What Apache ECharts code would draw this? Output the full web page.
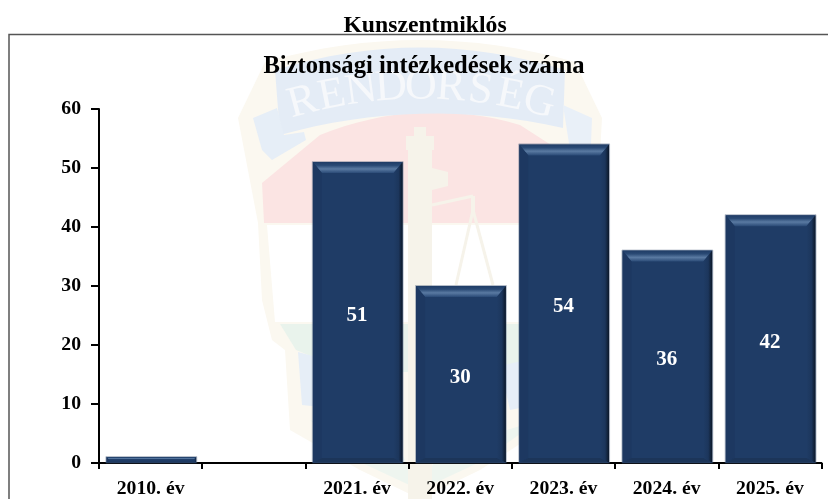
<!DOCTYPE html>
<html><head><meta charset="utf-8">
<style>html,body{margin:0;padding:0;background:#fff}#c{width:828px;height:499px}</style>
<script src="https://cdn.jsdelivr.net/npm/echarts@6/dist/echarts.min.js"></script>
</head><body><div id="c"></div>
<script>
const categories = ['2010. év', '', '2021. év', '2022. év', '2023. év', '2024. év', '2025. év'];
const values = [1, null, 51, 30, 54, 36, 42];
const shownLabels = [false, false, true, true, true, true, true];
const yMax = 60, yStep = 10;
const pageTitle = 'Kunszentmiklós';
const chartTitle = 'Biztonsági intézkedések száma';
const watermarkLetters = ['R','E','N','D','Ő','R','S','É','G'];
const serif = '"Liberation Serif","Times New Roman",serif';

function poly(points, fill) {
  return {type:'polygon', silent:true, z:0, shape:{points}, style:{fill}};
}
function line(points, color, width) {
  return {type:'polyline', silent:true, z:0, shape:{points}, style:{stroke:color,lineWidth:width,fill:null}};
}
function curve(a, c, b) {
  const out = [];
  for (let k = 0; k <= 16; k++) {
    const t = k/16, u = 1-t;
    out.push([u*u*a[0]+2*u*t*c[0]+t*t*b[0], u*u*a[1]+2*u*t*c[1]+t*t*b[1]]);
  }
  return out;
}
const letterEls = watermarkLetters.map((ch, i) => {
  const a = (i - 4) * 0.065;
  return {type:'text', silent:true, z:0, rotation:-a, x:421 + 460*Math.sin(a), y:547 - 460*Math.cos(a),
    style:{x:0,y:0,text:ch,align:'center',verticalAlign:'middle',fill:'#f6f8fb',font:'44px '+serif}};
});
const watermark = [
  poly([[238,118],[265,62]].concat(curve([265,62],[420,18],[575,62])).concat([[602,118],[592,300],[578,345],[572,410],[480,470],[420,499],[360,470],[290,430],[285,350],[272,340],[262,300],[258,223]]),'#fbf8f0'),
  poly([[262,183]].concat(curve([320,135],[420,95],[520,125])).concat([[590,170],[590,223],[264,223]]),'#fbe4e3'),
  poly([[267,225],[590,225],[590,322],[275,322]],'#ffffff'),
  poly([[280,324],[590,324],[590,360],[500,372],[350,372],[296,350]],'#e9f3ec'),
  poly(curve([275,70],[420,25],[565,70]).concat(curve([563,128],[420,96],[280,135])),'#e4ecf6'),
  poly([[253,118],[277,108],[284,135],[304,132],[306,140],[272,160],[262,150]],'#e6eef7'),
  poly([[563,105],[592,118],[590,170],[570,150]],'#e9f0f8'),
  poly([[298,352],[350,366],[350,410],[302,405]],'#e6eef7'),
  poly([[500,366],[560,352],[560,400],[510,410]],'#e6eef7'),
  poly([[310,420],[400,450],[420,490],[440,450],[540,420],[480,462],[420,490],[360,462]],'#eef5ef'),
  poly([[408,150],[432,150],[432,499],[408,499]],'#f6f3ea'),
  poly([[414,127],[426,127],[426,136],[434,136],[434,150],[406,150],[406,136],[414,136]],'#f6f3ea'),
  poly([[432,168],[448,172],[448,186],[432,190]],'#f6f3ea'),
  line([[432,205],[473,196]],'#f6f3ea',3),
  line([[473,196],[473,215]],'#f6f3ea',4),
  line([[473,210],[456,285]],'#f6f3ea',3),
  line([[473,210],[493,285]],'#f6f3ea',3),
  ...letterEls,
  {type:'polyline', silent:true, z:1, shape:{points:[[9,499],[9,34.5],[828,34.5]]}, style:{stroke:'#555',lineWidth:1.5,fill:null}},
  {type:'text', silent:true, z:5, style:{x:425,y:26,text:pageTitle,align:'center',verticalAlign:'middle',fill:'#000',font:'bold 23.7px '+serif}},
  {type:'text', silent:true, z:5, style:{x:424,y:67,text:chartTitle,align:'center',verticalAlign:'middle',fill:'#000',font:'bold 24.6px '+serif}}
];

function renderBar(params, api) {
  const v = api.value(1);
  if (v == null || isNaN(v)) return {type:'group', children:[]};
  const top = api.coord([api.value(0), v]);
  const base = api.coord([api.value(0), 0]);
  const w = api.size([1,0])[0] * 0.87;
  const x0 = top[0]-w/2+.7, x1 = top[0]+w/2+.7, y0 = top[1], y1 = base[1];
  const h = y1-y0;
  const b = Math.min(11, h*0.35), sx = Math.min(9, h*0.35), bb = Math.min(5, h*0.2);
  const kids = [
    {type:'rect', shape:{x:x0,y:y0,width:w,height:h}, style:{fill:'#1f3c66'}},
    {type:'polygon', shape:{points:[[x0,y0],[x1,y0],[x1-sx,y0+b],[x0+sx,y0+b]]}, style:{fill:new echarts.graphic.LinearGradient(0,0,0,1,[{offset:0,color:'#1f3c66'},{offset:.3,color:'#2a4a75'},{offset:.62,color:'#5a7aa2'},{offset:1,color:'#2a4a76'}])}},
    {type:'polygon', shape:{points:[[x1,y0],[x1,y1],[x1-sx,y1-bb],[x1-sx,y0+b]]}, style:{fill:new echarts.graphic.LinearGradient(0,0,1,0,[{offset:0,color:'#1f3c66'},{offset:.55,color:'#1c365c'},{offset:1,color:'#0b1728'}])}},
    {type:'polygon', shape:{points:[[x0,y0],[x0,y1],[x0+sx,y1-bb],[x0+sx,y0+b]]}, style:{fill:'#1d3861'}},
    {type:'polygon', shape:{points:[[x0,y1],[x1,y1],[x1-sx,y1-bb],[x0+sx,y1-bb]]}, style:{fill:'#1c3559'}},
    {type:'rect', shape:{x:x0-.5,y:y0-.5,width:w+1,height:h+.5}, style:{fill:null,stroke:'rgba(70,90,120,.4)',lineWidth:1}}
  ];
  if (shownLabels[params.dataIndex]) {
    kids.push({type:'text', z2:10, style:{x:top[0],y:(y0+y1)/2+3,text:String(v),align:'center',verticalAlign:'middle',fill:'#fff',font:'bold 21px '+serif}});
  }
  return {type:'group', children:kids};
}

const chart = echarts.init(document.getElementById('c'), null, {renderer:'canvas'});
chart.setOption({
  animation:false,
  backgroundColor:'#fff',
  graphic:{elements:watermark},
  grid:{left:99,right:6.5,top:109,bottom:36},
  xAxis:{type:'category',data:categories,
    axisLine:{lineStyle:{color:'#000',width:2}},
    axisTick:{show:true,interval:0,length:6,lineStyle:{color:'#000',width:2}},
    axisLabel:{interval:0,margin:16,color:'#000',fontFamily:serif,fontWeight:'bold',fontSize:19.7}},
  yAxis:{type:'value',min:0,max:yMax,interval:yStep,splitLine:{show:false},
    axisLine:{show:true,lineStyle:{color:'#000',width:2}},
    axisTick:{show:true,length:8,lineStyle:{color:'#000',width:2}},
    axisLabel:{margin:18,color:'#000',fontFamily:serif,fontWeight:'bold',fontSize:19.7,padding:[3,0,0,0]}},
  series:[{type:'custom',renderItem:renderBar,encode:{x:0,y:1},clip:false,z:3,
    data:categories.map((c,i)=>[i,values[i]])}]
});
</script></body></html>
